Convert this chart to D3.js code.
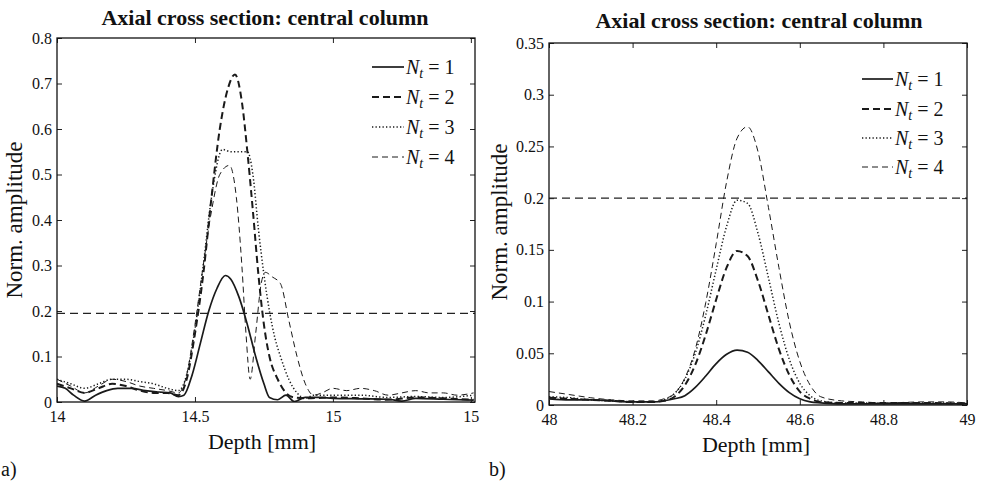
<!DOCTYPE html>
<html><head><meta charset="utf-8">
<script src="https://cdn.jsdelivr.net/npm/d3@7"></script>
<style>
html,body{margin:0;padding:0;background:#fff;}
svg{display:block;}
svg text{font-family:"Liberation Serif","Times New Roman","DejaVu Serif",serif;}
</style></head>
<body>
<svg id="chart" width="985" height="489"></svg>
<script>
// ---------- DATA ----------
const titleText = "Axial cross section: central column";
const xLabelText = "Depth [mm]";
const yLabelText = "Norm. amplitude";
const seriesNames = ["1", "2", "3", "4"];

// Panel a)
const aXTicks = [14, 14.5, 15, 15.5];
const aXTickLabels = ["14", "14.5", "15", "15"];
const aYTicks = [0, 0.1, 0.2, 0.3, 0.4, 0.5, 0.6, 0.7, 0.8];
const aYTickLabels = ["0", "0.1", "0.2", "0.3", "0.4", "0.5", "0.6", "0.7", "0.8"];
const aThreshold = 0.195;
const aNt1 = [[14.00,0.035],[14.03,0.03],[14.06,0.015],[14.10,0.002],[14.14,0.015],[14.18,0.025],[14.22,0.03],[14.27,0.03],[14.32,0.025],[14.37,0.022],[14.41,0.02],[14.44,0.012],[14.46,0.015],[14.49,0.06],[14.52,0.13],[14.55,0.2],[14.58,0.25],[14.61,0.278],[14.63,0.27],[14.66,0.23],[14.69,0.17],[14.72,0.1],[14.75,0.04],[14.77,0.01],[14.80,0.005],[14.83,0.015],[14.86,0.001],[14.90,0.01],[14.95,0.01],[15.00,0.008],[15.10,0.007],[15.20,0.006],[15.25,0.002],[15.30,0.008],[15.40,0.006],[15.51,0.004]];
const aNt2 = [[14.00,0.04],[14.05,0.03],[14.10,0.02],[14.15,0.03],[14.20,0.04],[14.25,0.035],[14.30,0.025],[14.35,0.02],[14.40,0.02],[14.44,0.015],[14.47,0.05],[14.50,0.15],[14.53,0.28],[14.56,0.45],[14.59,0.6],[14.62,0.69],[14.645,0.72],[14.67,0.66],[14.69,0.55],[14.71,0.42],[14.73,0.28],[14.75,0.17],[14.77,0.1],[14.80,0.05],[14.83,0.02],[14.86,0.01],[14.90,0.008],[15.00,0.01],[15.10,0.008],[15.20,0.005],[15.30,0.01],[15.40,0.008],[15.51,0.005]];
const aNt3 = [[14.00,0.05],[14.05,0.04],[14.10,0.03],[14.15,0.04],[14.20,0.05],[14.25,0.05],[14.30,0.045],[14.35,0.04],[14.40,0.03],[14.44,0.025],[14.47,0.06],[14.50,0.16],[14.53,0.3],[14.56,0.45],[14.60,0.555],[14.63,0.55],[14.66,0.55],[14.69,0.55],[14.71,0.5],[14.73,0.38],[14.75,0.28],[14.77,0.2],[14.79,0.14],[14.81,0.1],[14.84,0.05],[14.87,0.02],[14.90,0.008],[14.93,0.015],[15.00,0.015],[15.10,0.015],[15.20,0.01],[15.30,0.012],[15.40,0.01],[15.51,0.015]];
const aNt4 = [[14.00,0.05],[14.05,0.035],[14.10,0.02],[14.15,0.035],[14.20,0.05],[14.25,0.045],[14.30,0.035],[14.35,0.03],[14.40,0.025],[14.44,0.02],[14.47,0.06],[14.50,0.17],[14.53,0.3],[14.56,0.42],[14.59,0.5],[14.625,0.52],[14.65,0.45],[14.67,0.3],[14.685,0.15],[14.70,0.05],[14.72,0.15],[14.74,0.26],[14.755,0.285],[14.78,0.275],[14.81,0.26],[14.84,0.18],[14.87,0.1],[14.90,0.04],[14.93,0.015],[14.96,0.02],[15.00,0.03],[15.05,0.025],[15.10,0.03],[15.15,0.025],[15.20,0.015],[15.25,0.02],[15.30,0.025],[15.35,0.02],[15.40,0.02],[15.45,0.015],[15.51,0.02]];

// Panel b)
const bXTicks = [48, 48.2, 48.4, 48.6, 48.8, 49];
const bXTickLabels = ["48", "48.2", "48.4", "48.6", "48.8", "49"];
const bYTicks = [0, 0.05, 0.1, 0.15, 0.2, 0.25, 0.3, 0.35];
const bYTickLabels = ["0", "0.05", "0.1", "0.15", "0.2", "0.25", "0.3", "0.35"];
const bThreshold = 0.2;
const bNt1 = [[48.00,0.006],[48.05,0.005],[48.10,0.005],[48.15,0.004],[48.20,0.003],[48.25,0.003],[48.30,0.006],[48.325,0.009],[48.35,0.017],[48.375,0.028],[48.40,0.04],[48.425,0.049],[48.45,0.053],[48.475,0.051],[48.50,0.043],[48.525,0.032],[48.55,0.021],[48.575,0.012],[48.60,0.006],[48.625,0.003],[48.65,0.002],[48.70,0.001],[48.80,0.001],[48.90,0.001],[49.00,0.001]];
const bNt2 = [[48.00,0.007],[48.05,0.006],[48.10,0.005],[48.15,0.004],[48.20,0.003],[48.25,0.003],[48.275,0.004],[48.30,0.008],[48.325,0.019],[48.35,0.039],[48.375,0.068],[48.40,0.102],[48.425,0.133],[48.45,0.149],[48.475,0.144],[48.50,0.12],[48.525,0.087],[48.55,0.054],[48.575,0.029],[48.60,0.013],[48.625,0.006],[48.65,0.003],[48.70,0.002],[48.80,0.002],[48.90,0.002],[49.00,0.001]];
const bNt3 = [[48.00,0.008],[48.05,0.007],[48.10,0.005],[48.15,0.004],[48.20,0.003],[48.25,0.003],[48.275,0.005],[48.30,0.011],[48.325,0.025],[48.35,0.05],[48.375,0.087],[48.40,0.131],[48.425,0.173],[48.45,0.198],[48.475,0.195],[48.50,0.166],[48.525,0.123],[48.55,0.079],[48.575,0.044],[48.60,0.021],[48.625,0.009],[48.65,0.004],[48.70,0.002],[48.80,0.002],[48.90,0.002],[49.00,0.002]];
const bNt4 = [[48.00,0.013],[48.05,0.01],[48.10,0.007],[48.15,0.005],[48.20,0.004],[48.25,0.004],[48.275,0.006],[48.30,0.011],[48.325,0.026],[48.35,0.054],[48.375,0.099],[48.40,0.156],[48.425,0.216],[48.45,0.258],[48.475,0.269],[48.50,0.245],[48.525,0.191],[48.55,0.133],[48.575,0.08],[48.60,0.042],[48.625,0.019],[48.65,0.008],[48.70,0.004],[48.75,0.003],[48.80,0.002],[48.90,0.003],[48.95,0.003],[49.00,0.002]];

// ---------- DRAWING ----------
const svg = d3.select("#chart");
svg.append("rect").attr("width", 985).attr("height", 489).attr("fill", "#fff");

const styles = [
  {width: 1.7, dash: null},
  {width: 2.0, dash: "7,4"},
  {width: 1.5, dash: "1.3,2.2"},
  {width: 1.0, dash: "6,4"}
];
const serif = '"Liberation Serif","Times New Roman","DejaVu Serif",serif';

function drawPanel(cfg) {
  const x = d3.scaleLinear().domain(cfg.xDomain).range([cfg.left, cfg.right]);
  const y = d3.scaleLinear().domain(cfg.yDomain).range([cfg.bottom, cfg.top]);
  const g = svg.append("g");

  g.append("text").attr("x", cfg.titleX).attr("y", cfg.titleY)
    .attr("text-anchor", "middle").style("font-family", serif)
    .attr("font-weight", "bold").attr("font-size", 22).attr("fill", "#111")
    .text(titleText);

  const clipId = "clip" + cfg.id;
  svg.append("clipPath").attr("id", clipId).append("rect")
    .attr("x", cfg.left).attr("y", cfg.top)
    .attr("width", cfg.right - cfg.left).attr("height", cfg.bottom - cfg.top);

  const plot = g.append("g").attr("clip-path", `url(#${clipId})`);

  plot.append("line")
    .attr("x1", x(cfg.xDomain[0])).attr("x2", x(cfg.xDomain[1]))
    .attr("y1", y(cfg.threshold)).attr("y2", y(cfg.threshold))
    .attr("stroke", "#222").attr("stroke-width", 1.2).attr("stroke-dasharray", "8,5");

  const line = d3.line().x(d => x(d[0])).y(d => y(d[1])).curve(d3.curveMonotoneX);
  cfg.series.forEach((s, i) => {
    plot.append("path").datum(s).attr("d", line)
      .attr("fill", "none").attr("stroke", "#1a1a1a")
      .attr("stroke-width", styles[i].width)
      .attr("stroke-dasharray", styles[i].dash)
      .attr("stroke-linejoin", "round");
  });

  const fmtX = (d, i) => cfg.xTickLabels[i];
  const fmtY = (d, i) => cfg.yTickLabels[i];
  const axB = g.append("g").attr("transform", `translate(0,${cfg.bottom})`)
    .call(d3.axisBottom(x).tickValues(cfg.xTicks).tickFormat(fmtX)
      .tickSizeInner(-5).tickSizeOuter(0).tickPadding(9));
  const axT = g.append("g").attr("transform", `translate(0,${cfg.top})`)
    .call(d3.axisTop(x).tickValues(cfg.xTicks).tickFormat("")
      .tickSizeInner(-5).tickSizeOuter(0));
  const axL = g.append("g").attr("transform", `translate(${cfg.left},0)`)
    .call(d3.axisLeft(y).tickValues(cfg.yTicks).tickFormat(fmtY)
      .tickSizeInner(-5).tickSizeOuter(0).tickPadding(5));
  const axR = g.append("g").attr("transform", `translate(${cfg.right},0)`)
    .call(d3.axisRight(y).tickValues(cfg.yTicks).tickFormat("")
      .tickSizeInner(-5).tickSizeOuter(0));
  [axB, axT, axL, axR].forEach(a => {
    a.attr("font-family", null).attr("font-size", null);
    a.select(".domain").remove();
    a.selectAll(".tick line").attr("stroke", "#222").attr("stroke-width", 1);
    a.selectAll(".tick text").style("font-family", serif).attr("font-size", 16)
      .attr("fill", "#111");
  });

  g.append("rect").attr("x", cfg.left).attr("y", cfg.top)
    .attr("width", cfg.right - cfg.left).attr("height", cfg.bottom - cfg.top)
    .attr("fill", "none").attr("stroke", "#111").attr("stroke-width", 1.3);

  g.append("text").attr("x", cfg.xLabelX).attr("y", cfg.xLabelY)
    .attr("text-anchor", "middle").style("font-family", serif)
    .attr("font-size", 22).attr("fill", "#111").text(xLabelText);
  g.append("text")
    .attr("transform", `translate(${cfg.yLabelX},${cfg.yLabelY}) rotate(-90)`)
    .attr("text-anchor", "middle").style("font-family", serif)
    .attr("font-size", 23).attr("fill", "#111").text(yLabelText);

  cfg.legendRows.forEach((ry, i) => {
    g.append("line").attr("x1", cfg.legendX0).attr("x2", cfg.legendX1)
      .attr("y1", ry).attr("y2", ry)
      .attr("stroke", "#1a1a1a").attr("stroke-width", styles[i].width)
      .attr("stroke-dasharray", styles[i].dash);
    const t = g.append("text").attr("x", cfg.legendX1 + 2).attr("y", ry + 7)
      .style("font-family", serif).attr("font-size", 20).attr("fill", "#111");
    t.append("tspan").attr("font-style", "italic").text("N");
    t.append("tspan").attr("font-style", "italic").attr("font-size", 14)
      .attr("dy", 4).text("t");
    t.append("tspan").attr("dy", -4).text(" = " + seriesNames[i]);
  });

  g.append("text").attr("x", cfg.tagX).attr("y", cfg.tagY)
    .attr("text-anchor", "start").style("font-family", serif)
    .attr("font-size", 20).attr("fill", "#111").text(cfg.tag);
}

drawPanel({
  id: "a", left: 57, right: 475, top: 38, bottom: 402,
  xDomain: [14, 15.515], yDomain: [0, 0.8],
  xTicks: aXTicks, xTickLabels: aXTickLabels,
  yTicks: aYTicks, yTickLabels: aYTickLabels,
  threshold: aThreshold, series: [aNt1, aNt2, aNt3, aNt4],
  titleX: 265, titleY: 25, xLabelX: 262, xLabelY: 449,
  yLabelX: 22, yLabelY: 220,
  legendX0: 372, legendX1: 404, legendRows: [67, 97, 127, 157],
  tag: "a)", tagX: 1, tagY: 476
});

drawPanel({
  id: "b", left: 549, right: 967, top: 43, bottom: 405,
  xDomain: [48, 49], yDomain: [0, 0.35],
  xTicks: bXTicks, xTickLabels: bXTickLabels,
  yTicks: bYTicks, yTickLabels: bYTickLabels,
  threshold: bThreshold, series: [bNt1, bNt2, bNt3, bNt4],
  titleX: 759, titleY: 28, xLabelX: 756, xLabelY: 452,
  yLabelX: 507, yLabelY: 222,
  legendX0: 862, legendX1: 893, legendRows: [79, 109, 138, 167],
  tag: "b)", tagX: 489, tagY: 476
});
</script>
</body></html>
